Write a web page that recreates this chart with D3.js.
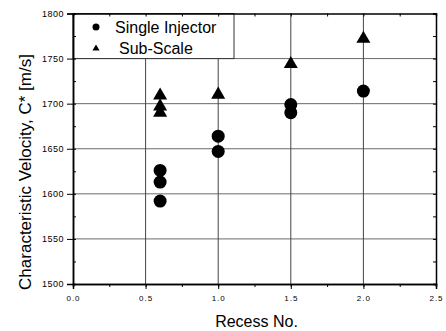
<!DOCTYPE html>
<html>
<head>
<meta charset="utf-8">
<script src="https://cdn.jsdelivr.net/npm/d3@7"></script>
<style>
  body { margin: 0; background: #fff; }
  text { font-family: Arial, "Liberation Sans", sans-serif; fill: #000; }
</style>
</head>
<body>
<svg id="chart" width="446" height="331"></svg>
<script>
// data
var singleX = [0.6, 0.6, 0.6, 1.0, 1.0, 1.5, 1.5, 2.0];
var singleY = [1626, 1613, 1592, 1664, 1647, 1699, 1690, 1714];
var subX = [0.6, 0.6, 0.6, 1.0, 1.5, 2.0];
var subY = [1709, 1697, 1690, 1710, 1744, 1772];
var xTicks = [0.0, 0.5, 1.0, 1.5, 2.0, 2.5];
var yTicks = [1500, 1550, 1600, 1650, 1700, 1750, 1800];
var legendNames = ["Single Injector", "Sub-Scale"];

var svg = d3.select("#chart"),
    margin = {top: 13.5, right: 10, bottom: 47, left: 73},
    width = 446 - margin.left - margin.right,
    height = 331 - margin.top - margin.bottom,
    g = svg.append("g").attr("transform", "translate(" + margin.left + "," + margin.top + ")");

var x = d3.scaleLinear().domain([0, 2.5]).range([0, width]);
var y = d3.scaleLinear().domain([1500, 1800]).range([height, 0]);

// grid lines
g.selectAll(".hgrid")
    .data(yTicks.slice(1, -1))
    .enter().append("line")
    .attr("x1", 0).attr("x2", width)
    .attr("y1", function (d) { return y(d); })
    .attr("y2", function (d) { return y(d); })
    .attr("stroke", "#6a6a6a");

g.selectAll(".vgrid")
    .data(xTicks.slice(1, -1))
    .enter().append("line")
    .attr("y1", 0).attr("y2", height)
    .attr("x1", function (d) { return x(d); })
    .attr("x2", function (d) { return x(d); })
    .attr("stroke", "#444");

// legend box sits over the grid
var legend = g.append("g");
legend.append("rect")
    .attr("x", 0).attr("y", 0)
    .attr("width", 161).attr("height", y(1750))
    .attr("fill", "#fff").attr("stroke", "#333");

legend.append("circle").attr("cx", 23).attr("cy", 13.5).attr("r", 3.5).attr("fill", "#000");
legend.append("path")
    .attr("d", d3.symbol().type(d3.symbolTriangle).size(22))
    .attr("transform", "translate(23,35)");
legend.selectAll(".lt")
    .data(legendNames)
    .enter().append("text")
    .attr("x", function (d, i) { return i == 0 ? 42 : 46; })
    .attr("y", function (d, i) { return 13.5 + i * 21.5; })
    .attr("dy", "0.35em")
    .style("font-size", "16px")
    .text(function (d) { return d; });

// axes
var fmtX = d3.format(".1f");
g.append("g")
    .attr("transform", "translate(0," + height + ")")
    .call(d3.axisBottom(x).tickValues(d3.range(0, 2.51, 0.25)).tickSize(3).tickFormat(""));
g.append("g")
    .attr("class", "xaxis")
    .attr("transform", "translate(0," + height + ")")
    .call(d3.axisBottom(x).tickValues(xTicks).tickSize(5).tickPadding(6).tickFormat(fmtX));
g.append("g")
    .call(d3.axisTop(x).tickValues(d3.range(0, 2.51, 0.25)).tickSize(-3).tickFormat(""));

g.append("g")
    .call(d3.axisLeft(y).tickValues(d3.range(1500, 1801, 25)).tickSize(-3).tickFormat(""));
g.append("g")
    .attr("class", "yaxis")
    .call(d3.axisLeft(y).tickValues(yTicks).tickSize(6).tickPadding(3).tickFormat(d3.format("d")));
g.append("g")
    .attr("transform", "translate(" + width + ",0)")
    .call(d3.axisRight(y).tickValues(d3.range(1500, 1801, 25)).tickSize(-3).tickFormat(""));

g.selectAll(".domain").attr("stroke", "#000").attr("stroke-width", 1.5);
g.selectAll(".tick line").attr("stroke", "#000");
g.selectAll(".xaxis text").style("font-size", "8px").style("letter-spacing", "1px").attr("fill", "#000");
g.selectAll(".yaxis text").style("font-size", "9px").style("letter-spacing", "0.5px").attr("fill", "#000");

// markers
g.selectAll(".single")
    .data(singleX)
    .enter().append("circle")
    .attr("cx", function (d) { return x(d); })
    .attr("cy", function (d, i) { return y(singleY[i]); })
    .attr("r", 6.5)
    .attr("fill", "#000");

g.selectAll(".sub")
    .data(subX)
    .enter().append("path")
    .attr("d", d3.symbol().type(d3.symbolTriangle).size(85))
    .attr("transform", function (d, i) { return "translate(" + x(d) + "," + y(subY[i]) + ")"; })
    .attr("fill", "#000");

// axis titles
svg.append("text")
    .attr("x", margin.left + x(1.25) + 2)
    .attr("y", 321)
    .attr("dy", "0.35em")
    .attr("text-anchor", "middle")
    .style("font-size", "16px")
    .text("Recess No.");

svg.append("text")
    .attr("transform", "translate(25,172) rotate(-90)")
    .attr("dy", "0.35em")
    .attr("text-anchor", "middle")
    .style("font-size", "17px")
    .text("Characteristic Velocity, C* [m/s]");
</script>
</body>
</html>
